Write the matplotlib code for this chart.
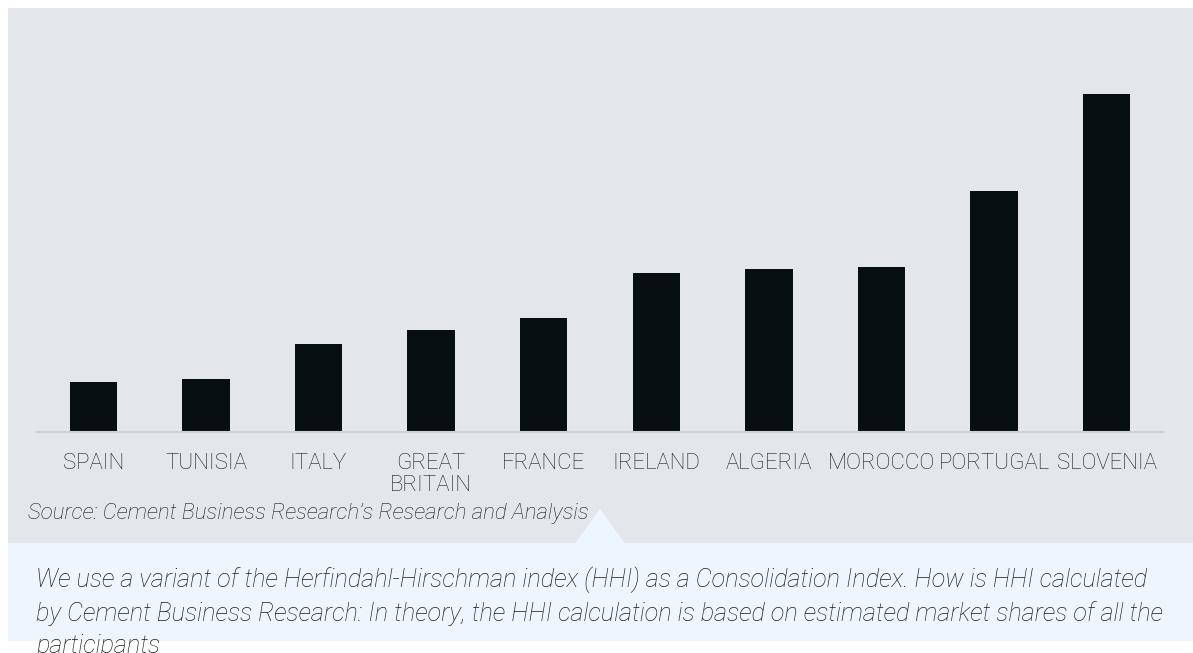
import numpy as np
import matplotlib.pyplot as plt
from matplotlib.patches import Rectangle, Polygon

# Data (consolidation index per country)
countries = ['SPAIN', 'TUNISIA', 'ITALY', 'GREAT\nBRITAIN', 'FRANCE',
             'IRELAND', 'ALGERIA', 'MOROCCO', 'PORTUGAL', 'SLOVENIA']
hhi = [500, 530, 880, 1020, 1140, 1590, 1630, 1650, 2410, 3380]

source_text = "Source: Cement Business Research\u2019s Research and Analysis"
note_text = ("We use a variant of the Herfindahl-Hirschman index (HHI) as a Consolidation Index. How is HHI calculated\n"
             "by Cement Business Research: In theory, the HHI calculation is based on estimated market shares of all the\n"
             "participants")

W, H = 1193, 653
plt.rcParams['font.family'] = ['Roboto', 'DejaVu Sans']

fig = plt.figure(figsize=(W / 100, H / 100), dpi=100)
fig.patch.set_facecolor('white')

def fx(px):
    return px / W

def fy(py):
    return 1 - py / H

# Background panels
fig.patches.append(Rectangle((fx(8), fy(543)), fx(W - 8), (543 - 8) / H,
                             transform=fig.transFigure, facecolor='#e3e7ec',
                             edgecolor='none', zorder=-5))
fig.patches.append(Rectangle((fx(8), fy(641)), fx(W - 8), (641 - 543) / H,
                             transform=fig.transFigure, facecolor='#edf6fe',
                             edgecolor='none', zorder=-5))
fig.patches.append(Polygon([(fx(575), fy(543.5)), (fx(600), fy(509)), (fx(625), fy(543.5))],
                           closed=True, transform=fig.transFigure,
                           facecolor='#edf6fe', edgecolor='none', zorder=-4))

# Bar chart
ax = fig.add_axes([fx(37), fy(432), fx(1163 - 37), (432 - 60) / H])
ax.set_facecolor('none')
x = np.arange(len(countries))
ax.bar(x, hhi, width=0.42, color='#070f12', zorder=2)
ax.set_xlim(-0.5, len(countries) - 0.5)
ax.set_ylim(0, 3720)
ax.set_xticks(x)
ax.set_xticklabels(countries, fontsize=16, fontweight='light', color='#1c1c1c',
                   linespacing=1.05)
ax.tick_params(axis='x', length=0, pad=15)
ax.set_yticks([])
for s in ['top', 'left', 'right']:
    ax.spines[s].set_visible(False)
ax.spines['bottom'].set_color('#cfd0d3')
ax.spines['bottom'].set_linewidth(1.5)

# Source and note
fig.text(fx(28), fy(513), source_text, fontsize=16, style='italic',
         fontweight='light', color='#1c1c1c', va='center', ha='left')
fig.text(fx(36), fy(566), note_text, fontsize=18.2, style='italic',
         fontweight='light', color='#1c1c1c', va='top', ha='left',
         linespacing=1.42, zorder=3)

fig.savefig('out.png', dpi=100)
